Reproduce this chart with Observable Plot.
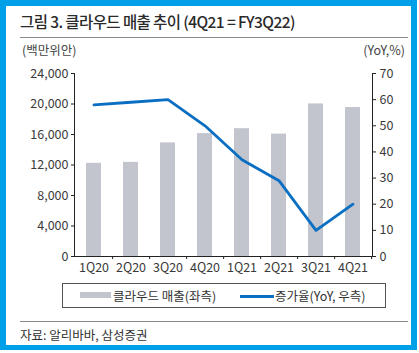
<!DOCTYPE html>
<html><head><meta charset="utf-8">
<script src="https://cdn.jsdelivr.net/npm/d3@7"></script>
<script src="https://cdn.jsdelivr.net/npm/@observablehq/plot@0.6"></script>
<style>
body{margin:0;background:#fff;font-family:"Noto Sans CJK KR","Noto Sans",sans-serif;}
#wrap{position:relative;width:419px;height:353px;overflow:hidden;background:#fff;}
.border{position:absolute;left:0;top:0;width:417px;height:350px;box-sizing:border-box;border-style:solid;border-color:#00a0e9;border-width:6px 6px 5px 6px;}
.abs{position:absolute;white-space:nowrap;}
.title{left:20px;top:10px;font-size:15.5px;font-weight:500;color:#2a2a2a;letter-spacing:-0.6px;}
.rule{position:absolute;left:20px;width:388px;height:1px;background:#8a8a8a;}
.unit{font-size:12.5px;color:#444;}
#chart{position:absolute;left:0;top:0;}
.legend{position:absolute;left:62px;top:283px;width:324px;height:25px;box-sizing:border-box;border:1px solid #555;}
.lg{position:absolute;font-size:12.5px;color:#333;white-space:nowrap;}
</style></head><body>
<div id="wrap">
  <div class="border"></div>
  <div class="abs title">그림 3. 클라우드 매출 추이 (4Q21 = FY3Q22)</div>
  <div class="rule" style="top:37px"></div>
  <div class="abs unit" style="left:22px;top:40px">(백만위안)</div>
  <div class="abs unit" style="right:14px;top:40px">(YoY,%)</div>
  <div id="chart"></div>
  <div class="legend">
    <div style="position:absolute;left:17px;top:8px;width:31px;height:6px;background:#c2c4ce"></div>
    <div class="lg" style="left:50px;top:2px">클라우드 매출(좌측)</div>
    <div style="position:absolute;left:177px;top:11px;width:34px;height:3px;background:#0a6fc2"></div>
    <div class="lg" style="left:212px;top:2px">증가율(YoY, 우측)</div>
  </div>
  <div class="rule" style="top:321px"></div>
  <div class="abs unit" style="left:20px;top:325px;color:#333">자료: 알리바바, 삼성증권</div>
</div>
<script>
const quarters = ["1Q20","2Q20","3Q20","4Q20","1Q21","2Q21","3Q21","4Q21"];
const cloudRevenue = [12217, 12345, 14899, 16115, 16763, 16051, 20007, 19539];
const yoyGrowth = [58, 59, 60, 50, 37, 29, 10, 20];
const leftTicks = [0, 4000, 8000, 12000, 16000, 20000, 24000];
const rightTicks = [0, 10, 20, 30, 40, 50, 60, 70];

const data = quarters.map((q, i) => ({q, rev: cloudRevenue[i], yoy: yoyGrowth[i]}));
const k = 24000 / 70;
const W = 419, H = 280, ML = 74, MR = 47;
const bw = (W - ML - MR) / quarters.length;

const chart = Plot.plot({
  width: W, height: H,
  marginLeft: ML, marginRight: MR, marginTop: 73, marginBottom: 24,
  style: {fontFamily: '"Noto Sans CJK KR","Noto Sans",sans-serif', fontSize: "12.5px", color: "#222", background: "transparent", overflow: "visible"},
  x: {domain: quarters, padding: 0, axis: null},
  y: {domain: [0, 24000], axis: null},
  marks: [
    Plot.barY(data, {x: "q", y: "rev", fill: "#c2c4ce", insetLeft: 11, insetRight: 11}),
    Plot.lineY(data, {x: "q", y: d => d.yoy * k, stroke: "#0a6fc2", strokeWidth: 2.8}),
    Plot.frame({anchor: "left", stroke: "#222"}),
    Plot.frame({anchor: "right", stroke: "#222"}),
    Plot.frame({anchor: "bottom", stroke: "#222"}),
    Plot.ruleX(quarters, {x: d => d, dx: bw / 2, y1: 0, y2: -400, stroke: "#222"}),
    Plot.axisY(leftTicks, {anchor: "left", label: null, tickSize: 3, tickPadding: 3, tickFormat: d3.format(","), fill: "#3a3a3a"}),
    Plot.axisY(rightTicks.map(v => v * k), {anchor: "right", label: null, tickSize: 3, tickPadding: 4, tickFormat: v => Math.round(v / k), fill: "#3a3a3a"}),
    Plot.axisX({label: null, tickSize: 0, tickPadding: 7, fill: "#3a3a3a"})
  ]
});
document.getElementById("chart").appendChild(chart);
</script>
</body></html>
